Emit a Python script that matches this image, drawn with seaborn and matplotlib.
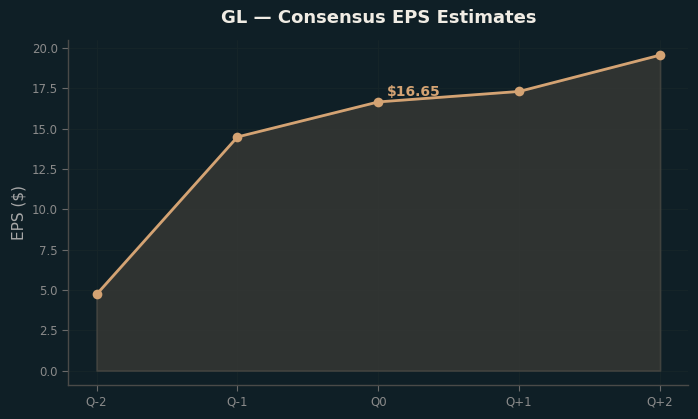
import matplotlib
matplotlib.use("Agg")
import matplotlib.pyplot as plt
import seaborn as sns
import pandas as pd

# Consensus EPS data
quarters = ["Q-2", "Q-1", "Q0", "Q+1", "Q+2"]
eps = [4.72, 14.48, 16.65, 17.3, 19.55]
highlight_label = "$16.65"

bg = "#0f1f26"
accent = "#d4a373"

sns.set_theme(style="dark")
plt.rcParams["font.family"] = ["DejaVu Sans"]

df = pd.DataFrame({"quarter": quarters, "eps": eps})
df["x"] = range(len(df))

fig, ax = plt.subplots(figsize=(6.98, 4.19), dpi=100)
fig.patch.set_facecolor(bg)
ax.set_facecolor(bg)

ax.fill_between(df["x"], df["eps"], 0, color="#3a3a36", alpha=0.75,
                edgecolor="#4a4a44", linewidth=1.2, zorder=1)
sns.lineplot(data=df, x="x", y="eps", ax=ax, color=accent, linewidth=2,
             marker="o", markersize=7, markeredgewidth=0, zorder=3)

ax.annotate(highlight_label, (df["x"][2], df["eps"][2]), xytext=(6, 2),
            textcoords="offset points", color=accent, fontsize=10,
            fontweight="bold", ha="left", va="bottom")

ax.set_xticks(df["x"])
ax.set_xticklabels(quarters)
ax.set_xlim(-0.2, 4.2)
ax.set_ylim(-0.9, 20.5)
ax.set_yticks([0, 2.5, 5, 7.5, 10, 12.5, 15, 17.5, 20])

ax.set_title("GL — Consensus EPS Estimates", color="#f0ece4",
             fontsize=13, fontweight="bold", pad=12)
ax.set_xlabel("")
ax.set_ylabel("EPS ($)", color="#a8a8a8", fontsize=11)
ax.tick_params(colors="#8a8a8a", labelsize=8.5, length=4, width=0.8,
               bottom=True, left=True)
ax.tick_params(axis="both", color="#6a6a6a")
ax.grid(True, color="#172529", linewidth=0.6)

for s in ["top", "right"]:
    ax.spines[s].set_visible(False)
for s in ["left", "bottom"]:
    ax.spines[s].set_color("#4a4a48")
    ax.spines[s].set_linewidth(1)

plt.subplots_adjust(left=0.098, right=0.986, top=0.905, bottom=0.081)
fig.savefig("out.png", dpi=100, facecolor=bg)
